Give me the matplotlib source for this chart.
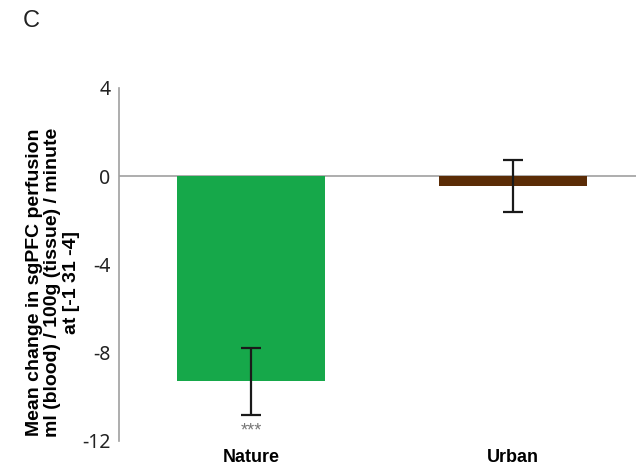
import matplotlib
matplotlib.use('Agg')
import matplotlib.pyplot as plt

# Values
groups = ['Nature', 'Urban']
mean_change = [-9.3, -0.45]
sem = [1.52, 1.17]
bar_colors = ['#16a84a', '#5b2c06']
yticks = [4, 0, -4, -8, -12]

fig = plt.figure(figsize=(6.4, 4.67), dpi=100)
ax = fig.add_axes([0.186, 0.0557, 0.808, 0.756])

x = list(range(len(groups)))
ax.bar(x, mean_change, width=0.565, color=bar_colors, zorder=2)
ax.errorbar(x, mean_change, yerr=sem, fmt='none', ecolor='#1a1a1a',
            elinewidth=1.6, capsize=7, capthick=1.6, zorder=3)
ax.axhline(0, color='#a0a0a0', lw=1.2, zorder=1)

ax.set_xlim(-0.504, 1.47)
ax.set_ylim(-12, 4)
ax.set_yticks(yticks)
ax.set_yticklabels([str(t) for t in yticks], fontfamily='Noto Sans', fontsize=14, color='#222222')
ax.tick_params(axis='y', length=0, pad=6)
ax.set_xticks(x)
ax.set_xticklabels(groups, fontfamily='Liberation Sans', fontweight='bold', fontsize=13)
ax.tick_params(axis='x', length=0, pad=5.5)

for s in ['top', 'right', 'bottom']:
    ax.spines[s].set_visible(False)
ax.spines['left'].set_color('#a0a0a0')
ax.spines['left'].set_linewidth(1.2)

fig.text(53 / 640, 1 - 282 / 467,
         'Mean change in sgPFC perfusion\nml (blood) / 100g (tissue) / minute\nat [-1 31 -4]',
         rotation=90, ha='center', va='center', multialignment='center',
         fontfamily='Liberation Sans', fontweight='bold', fontsize=14, linespacing=1.15)

# significance marker under the Nature bar
ax.text(0, -11.75, '***', ha='center', va='baseline', clip_on=False,
        fontsize=13, color='#777777', fontfamily='Liberation Sans')

fig.text(23 / 640, 0.942, 'C', fontsize=17, fontfamily='Liberation Sans', color='#222222',
         va='baseline')

fig.savefig('out.png', dpi=100)
